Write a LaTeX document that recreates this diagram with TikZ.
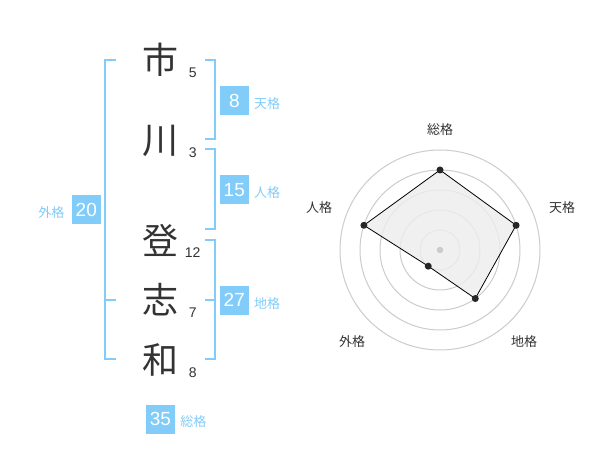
\documentclass[tikz,border=0pt]{standalone}
\usepackage{fontspec}
\setmainfont{Liberation Sans}
\newfontfamily\jpfont{Noto Sans CJK JP}
\usetikzlibrary{calc}
\definecolor{kakublue}{RGB}{130,204,250}
\definecolor{inkgray}{RGB}{51,51,51}
\tikzset{
	kanji/.style={inner sep=0, text=inkgray, font=\jpfont\fontsize{36}{36}\selectfont},
	strokes/.style={inner sep=0, text=inkgray, font=\fontsize{14}{14}\selectfont},
	kakubox/.style={fill=kakublue, text=white, minimum size=29, inner sep=0, font=\fontsize{19}{19}\selectfont},
	kakutext/.style={inner sep=0, text=kakublue, font=\jpfont\fontsize{13}{13}\selectfont},
	bracket/.style={line width=2pt, color=kakublue},
	axislabel/.style={inner sep=0, text=inkgray, font=\jpfont\fontsize{13}{13}\selectfont}
}
\def\kaku(#1)(#2)(#3:#4){\node[kakubox] (#1) at (#2) {#3}; \node[kakutext, anchor=west] (#1name) at ($(#1.east)+(5,3)$) {#4};}

\begin{document}
\begin{tikzpicture}[x=1pt, y=-1pt]
		%%%%% START %%%%%
		
		\fill[white] (0, 0) rectangle (600, 470);
		
		% name, one character a line
		\node[kanji] (c1) at (160, 59.5) {市};
		\node[kanji] (c2) at (160, 140.5) {川};
		\node[kanji] (c3) at (160, 240) {登};
		\node[kanji] (c4) at (160, 300) {志};
		\node[kanji] (c5) at (160, 360) {和};
		
		\node[strokes] (n1) at (192.7, 72.7) {5};
		\node[strokes] (n2) at (192.7, 153) {3};
		\node[strokes] (n3) at (192.7, 252.7) {12};
		\node[strokes] (n4) at (192.7, 312.7) {7};
		\node[strokes] (n5) at (192.7, 372.7) {8};
		
		% brackets
		\draw[bracket] (116, 60) -- (105, 60) -- (105, 359.5) -- (116, 359.5);
		\draw[bracket] (105, 300) -- (116, 300);
		
		\draw[bracket] (205, 60) -- (214.5, 60) -- (214.5, 139.5) -- (205, 139.5);
		\draw[bracket] (205, 149.5) -- (214.5, 149.5) -- (214.5, 229.5) -- (205, 229.5);
		\draw[bracket] (205, 240) -- (214.5, 240) -- (214.5, 359.5) -- (205, 359.5);
		\draw[bracket] (205, 300) -- (214.5, 300);
		
		\kaku(ten)(234.3, 100.5)(8:天格)
		\kaku(jin)(234.3, 190)(15:人格)
		\kaku(chi)(234.3, 300.3)(27:地格)
		\kaku(sou)(160.5, 419)(35:総格)
		
		\node[kakubox] (gai) at (86.3, 210) {20};
		\node[kakutext, anchor=east] (gainame) at ($(gai.west)+(-7,3)$) {外格};
		
		% radar
		\begin{scope}[shift={(440, 250)}, y=1pt]
			\foreach \r in {20,40,...,100}
				\draw[line width=1pt, color=black!20] (0, 0) circle[radius=\r pt];
			
			\coordinate (pSou) at (90:80);
			\coordinate (pTen) at (18:80);
			\coordinate (pChi) at (-54:60);
			\coordinate (pGai) at (-126:20);
			\coordinate (pJin) at (162:80);
			
			\draw[line width=0.8pt, fill=black!7, fill opacity=0.8] (pSou) -- (pTen) -- (pChi) -- (pGai) -- (pJin) -- cycle;
			\foreach \p in {pSou,pTen,pChi,pGai,pJin}
				\fill[black!85] (\p) circle[radius=3.5pt];
			\fill[black!20] (0, 0) circle[radius=3.3pt];
			
			\node[axislabel] (aSou) at (0, 120) {総格};
			\node[axislabel] (aTen) at (122, 42) {天格};
			\node[axislabel] (aChi) at (84, -92) {地格};
			\node[axislabel] (aGai) at (-88, -92) {外格};
			\node[axislabel] (aJin) at (-121, 42) {人格};
		\end{scope}
		
		%%%%% END %%%%%
	\end{tikzpicture}
\end{document}
